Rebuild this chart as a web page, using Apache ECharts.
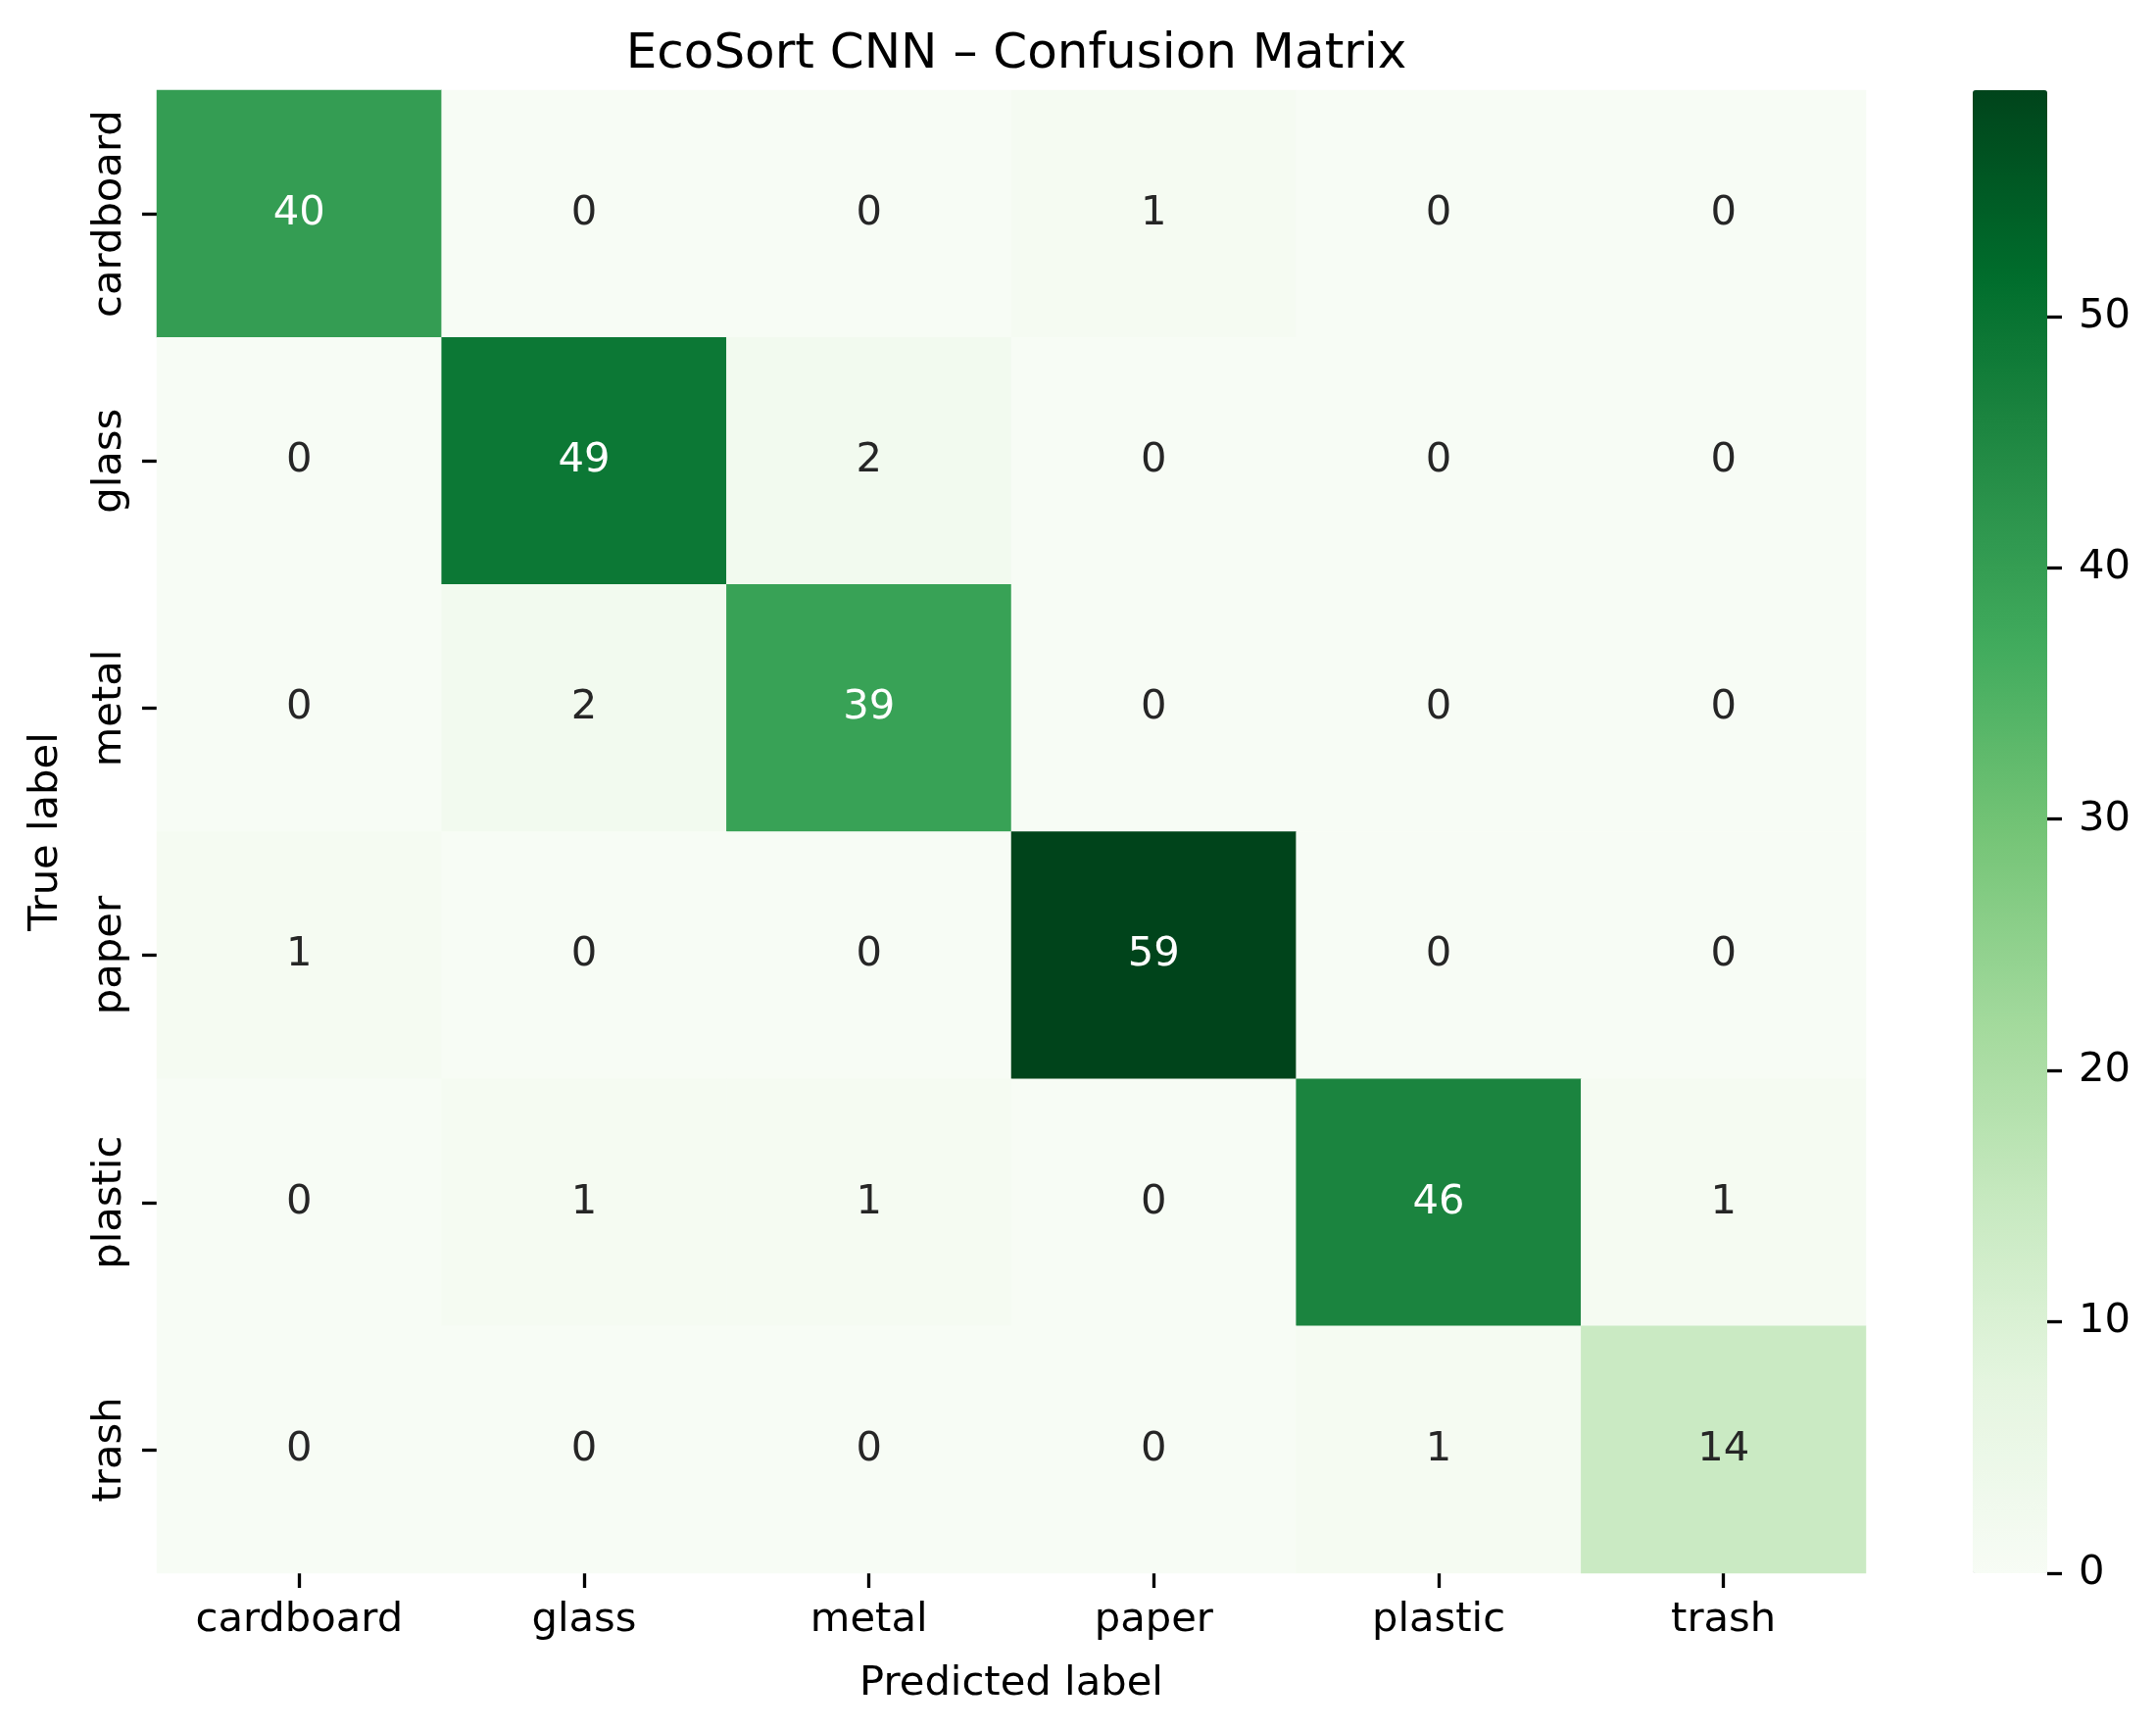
<!DOCTYPE html>
<html>
<head>
<meta charset="utf-8">
<script src="https://cdn.jsdelivr.net/npm/echarts@6/dist/echarts.min.js"></script>
<style>
html,body{margin:0;padding:0;background:#fff;}
#chart{width:2200px;height:1765px;}
</style>
</head>
<body>
<div id="chart"></div>
<script>
// ---- data ----
const predictedLabels = ['cardboard', 'glass', 'metal', 'paper', 'plastic', 'trash'];
const trueLabels = ['cardboard', 'glass', 'metal', 'paper', 'plastic', 'trash'];
const rowCardboard = [40, 0, 0, 1, 0, 0];
const rowGlass     = [0, 49, 2, 0, 0, 0];
const rowMetal     = [0, 2, 39, 0, 0, 0];
const rowPaper     = [1, 0, 0, 59, 0, 0];
const rowPlastic   = [0, 1, 1, 0, 46, 1];
const rowTrash     = [0, 0, 0, 0, 1, 14];
const colorbarTicks = [0, 10, 20, 30, 40, 50];
const titleText = 'EcoSort CNN \u2013 Confusion Matrix';
const xName = 'Predicted label';
const yName = 'True label';

const rows = [rowCardboard, rowGlass, rowMetal, rowPaper, rowPlastic, rowTrash];
const vmin = 0;
const vmax = Math.max.apply(null, rows.map(r => Math.max.apply(null, r)));

// matplotlib "Greens" colormap stops
const greens = ['#f7fcf5','#e5f5e0','#c7e9c0','#a1d99b','#74c476','#41ab5d','#238b45','#006d2c','#00441b'];

const FONT = 'DejaVu Sans';
const FS = 41.7;
const TICKW = 3.3;

const data = [];
rows.forEach((row, yi) => {
  row.forEach((v, xi) => {
    const light = (v - vmin) / (vmax - vmin) > 0.5;
    data.push({
      value: [xi, yi, v],
      label: { color: light ? '#ffffff' : '#262626' }
    });
  });
});

// colorbar axis: one category per unit step of the colour scale
const cbSteps = [];
for (let v = vmin; v <= vmax; v++) cbSteps.push(String(v));
const isCbTick = (idx, val) => colorbarTicks.indexOf(Number(val)) >= 0;

const G = { left: 160, top: 92, width: 1744, height: 1513 };
const CB = { left: 2013, top: 92, width: 76, height: 1513 };

const chart = echarts.init(document.getElementById('chart'), null, { renderer: 'canvas' });
chart.setOption({
  backgroundColor: '#ffffff',
  animation: false,
  title: {
    text: titleText,
    left: G.left + G.width / 2,
    textAlign: 'center',
    top: 26,
    textStyle: { fontFamily: FONT, fontSize: 50, fontWeight: 'normal', color: '#000' }
  },
  grid: [
    { left: G.left, top: G.top, width: G.width, height: G.height, containLabel: false },
    { left: CB.left, top: CB.top, width: CB.width, height: CB.height, containLabel: false }
  ],
  xAxis: [
    {
      type: 'category', gridIndex: 0, data: predictedLabels,
      position: 'bottom',
      name: xName, nameLocation: 'middle', nameGap: 92,
      nameTextStyle: { fontFamily: FONT, fontSize: FS, color: '#000' },
      axisLine: { show: false },
      axisTick: { show: true, alignWithLabel: true, interval: 0, length: 15, lineStyle: { color: '#000', width: TICKW } },
      axisLabel: { fontFamily: FONT, fontSize: FS, color: '#000', margin: 27, interval: 0 },
      splitLine: { show: false }, splitArea: { show: false }
    },
    { type: 'category', gridIndex: 1, show: false, data: ['cb'] }
  ],
  yAxis: [
    {
      type: 'category', gridIndex: 0, data: trueLabels, inverse: true,
      name: yName, nameLocation: 'middle', nameGap: 92, nameRotate: 90,
      nameTextStyle: { fontFamily: FONT, fontSize: FS, color: '#000' },
      axisLine: { show: false },
      axisTick: { show: true, alignWithLabel: true, interval: 0, length: 15, lineStyle: { color: '#000', width: TICKW } },
      axisLabel: { fontFamily: FONT, fontSize: FS, color: '#000', margin: 27, rotate: 90, interval: 0 },
      splitLine: { show: false }, splitArea: { show: false }
    },
    {
      type: 'category', gridIndex: 1, position: 'right', data: cbSteps, boundaryGap: false,
      z: 20,
      axisLine: { show: false, onZero: false },
      splitLine: { show: false }, splitArea: { show: false },
      axisTick: { show: true, length: 15, interval: isCbTick, lineStyle: { color: '#000', width: TICKW } },
      axisLabel: { fontFamily: FONT, fontSize: FS, color: '#000', margin: 32, interval: isCbTick }
    }
  ],
  visualMap: {
    type: 'continuous',
    seriesIndex: 0,
    min: vmin, max: vmax,
    calculable: false,
    hoverLink: false,
    orient: 'vertical',
    align: 'left',
    left: CB.left, top: CB.top,
    itemWidth: CB.width, itemHeight: CB.height,
    padding: 0,
    z: 1,
    text: null,
    showLabel: false,
    inRange: { color: greens }
  },
  series: [
    {
      type: 'heatmap',
      xAxisIndex: 0, yAxisIndex: 0,
      data: data,
      label: { show: true, fontFamily: FONT, fontSize: FS },
      itemStyle: { borderWidth: 0 },
      emphasis: { disabled: true },
      progressive: 0
    }
  ]
});
</script>
</body>
</html>
